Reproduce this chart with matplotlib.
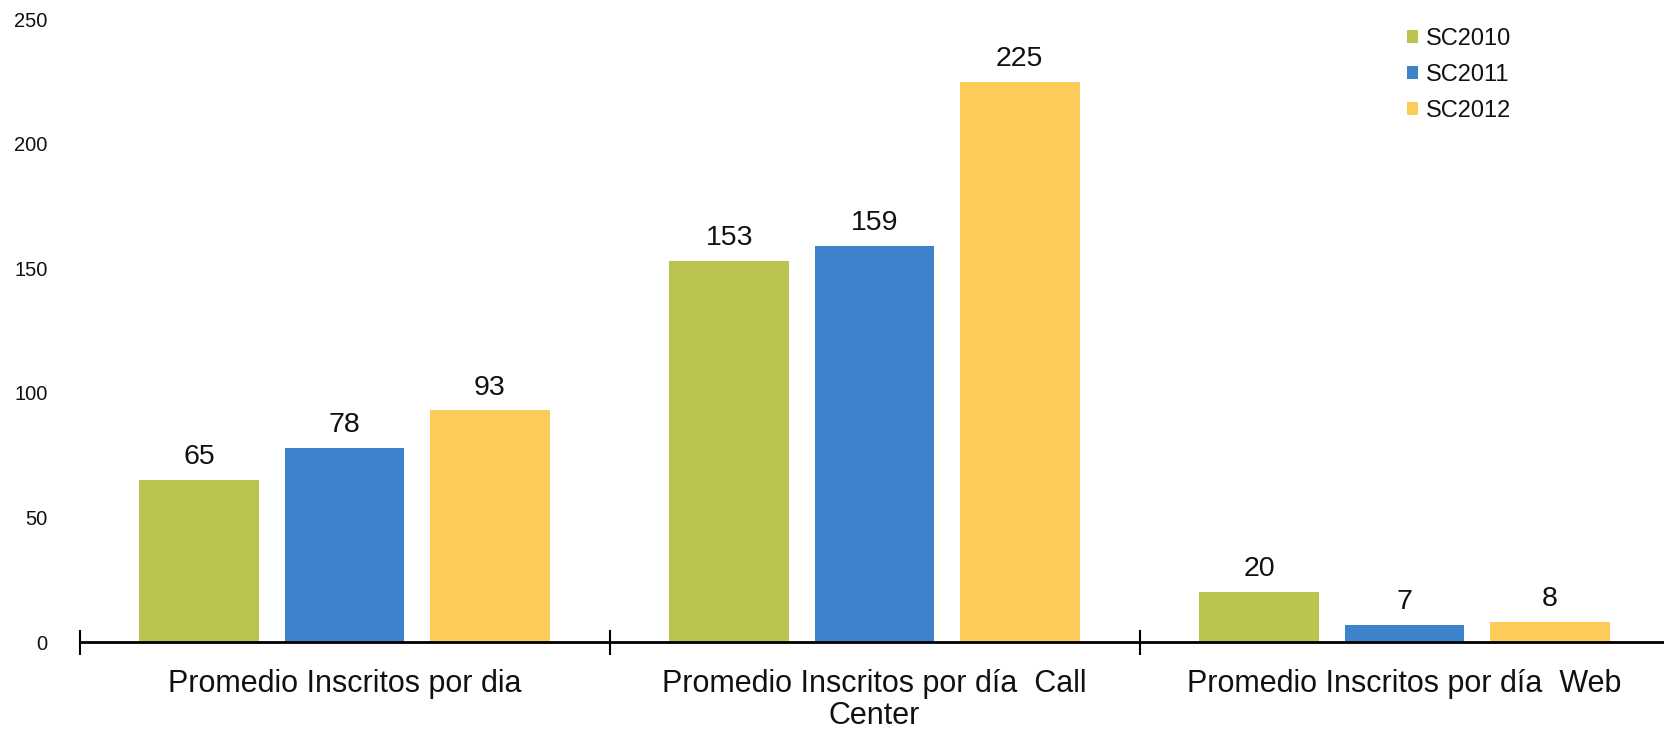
import matplotlib
matplotlib.use("Agg")
import matplotlib.pyplot as plt
import numpy as np

categories = ["Promedio Inscritos por dia",
              "Promedio Inscritos por día  Call\nCenter",
              "Promedio Inscritos por día  Web"]
series_names = ["SC2010", "SC2011", "SC2012"]
sc2010 = [65, 153, 20]
sc2011 = [78, 159, 7]
sc2012 = [93, 225, 8]
y_ticks = [0, 50, 100, 150, 200, 250]

colors = ["#bbc44f", "#3e82cc", "#fdcb5a"]
plt.rcParams['font.family'] = ['Liberation Sans', 'DejaVu Sans']

fig = plt.figure(figsize=(16.64, 7.30), dpi=100)
ax = fig.add_axes([0.0478, 0.1205, 0.9555, 0.853])

x = np.arange(len(categories))
width = 0.226
step = 0.274
for i, (vals, name) in enumerate(zip([sc2010, sc2011, sc2012], series_names)):
    pos = x + (i - 1) * step
    bars = ax.bar(pos, vals, width, color=colors[i], label=name, zorder=2)
    for b, v in zip(bars, vals):
        ax.annotate(str(v), (b.get_x() + b.get_width() / 2, v),
                    xytext=(0, 7), textcoords="offset points",
                    ha="center", va="bottom", fontsize=20.5, color="#111111")

ax.set_xlim(-0.5, 2.5)
ax.set_ylim(0, 250)
ax.set_yticks(y_ticks)
ax.set_yticklabels([str(t) for t in y_ticks], fontsize=14.5, color="#111111")
ax.tick_params(axis='y', length=0, pad=23)

ax.set_xticks([-0.5, 0.5, 1.5])
ax.set_xticklabels([])
ax.set_xticks(x, minor=True)
ax.set_xticklabels(categories, minor=True, fontsize=22, linespacing=1.08,
                   color="#111111")
ax.tick_params(axis='x', which='major', direction='inout', length=18, width=1.5, color='black')
ax.tick_params(axis='x', which='minor', length=0, pad=19.5)

for s in ['top', 'right', 'left']:
    ax.spines[s].set_visible(False)
ax.spines['bottom'].set_linewidth(2)
ax.spines['bottom'].set_zorder(3)

leg = fig.legend(loc='upper left', bbox_to_anchor=(0.8456, 0.962), frameon=False,
                 fontsize=17, handlelength=0.45, handleheight=0.45,
                 handletextpad=0.35, labelspacing=0.6, borderpad=0, borderaxespad=0)
for t in leg.get_texts():
    t.set_color("#111111")

fig.savefig("out.png", dpi=100)
